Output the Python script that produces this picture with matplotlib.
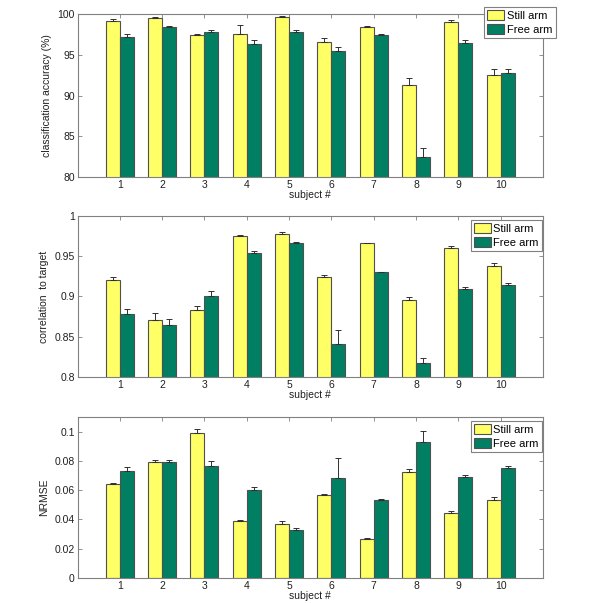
import numpy as np
import matplotlib
matplotlib.use("Agg")
import matplotlib.pyplot as plt

plt.rcParams['font.family'] = ['Liberation Sans', 'DejaVu Sans']

subjects = [1, 2, 3, 4, 5, 6, 7, 8, 9, 10]
labels = ["Still arm", "Free arm"]

# classification accuracy (%)
acc_still = [99.1, 99.5, 97.4, 97.6, 99.6, 96.6, 98.4, 91.3, 99.0, 92.5]
acc_still_err = [0.3, 0.1, 0.2, 1.1, 0.15, 0.5, 0.1, 0.9, 0.3, 0.8]
acc_free = [97.2, 98.4, 97.8, 96.3, 97.8, 95.5, 97.4, 82.4, 96.5, 92.8]
acc_free_err = [0.3, 0.15, 0.2, 0.5, 0.2, 0.4, 0.2, 1.2, 0.3, 0.5]

# correlation to target
corr_still = [0.921, 0.871, 0.883, 0.975, 0.978, 0.924, 0.966, 0.896, 0.960, 0.938]
corr_still_err = [0.003, 0.009, 0.005, 0.001, 0.002, 0.003, 0.001, 0.003, 0.003, 0.003]
corr_free = [0.878, 0.865, 0.901, 0.954, 0.966, 0.841, 0.930, 0.817, 0.909, 0.914]
corr_free_err = [0.006, 0.007, 0.006, 0.003, 0.002, 0.017, 0.001, 0.007, 0.003, 0.003]

# NRMSE
nrmse_still = [0.0640, 0.0793, 0.0989, 0.0389, 0.0370, 0.0564, 0.0268, 0.0727, 0.0443, 0.0536]
nrmse_still_err = [0.0008, 0.0013, 0.0027, 0.0006, 0.0019, 0.0009, 0.0005, 0.0016, 0.0018, 0.0016]
nrmse_free = [0.0730, 0.0791, 0.0766, 0.0600, 0.0330, 0.0684, 0.0532, 0.0930, 0.0691, 0.0752]
nrmse_free_err = [0.0027, 0.0016, 0.0032, 0.0020, 0.0009, 0.0139, 0.0011, 0.0075, 0.0011, 0.0012]

YELLOW = '#FFFF66'
GREEN = '#007F62'
EDGE = '#505050'
AXC = '#808080'
FS = 7.5

fig = plt.figure(figsize=(6.0, 6.03), dpi=100)
W, H = 600.0, 603.0


def add_axes(top_px, bot_px, left_px=77.5, right_px=543.0):
    return fig.add_axes([left_px / W, 1 - bot_px / H,
                         (right_px - left_px) / W, (bot_px - top_px) / H])


def draw_panel(ax, still, still_err, free, free_err, ylim, yticks, yticklabels, ylabel, leg_anchor):
    x = np.array(subjects, dtype=float)
    w = 0.33
    b1 = ax.bar(x - w / 2, still, w, color=YELLOW, edgecolor=EDGE, linewidth=0.8,
                label=labels[0], zorder=2)
    b2 = ax.bar(x + w / 2, free, w, color=GREEN, edgecolor=EDGE, linewidth=0.8,
                label=labels[1], zorder=2)
    zeros = np.zeros(len(x))
    # one-sided (upper) error bars
    ax.errorbar(x - w / 2, still, yerr=[zeros, still_err], fmt='none', ecolor='#303030',
                elinewidth=0.7, capsize=2.3, capthick=0.7, zorder=3)
    ax.errorbar(x + w / 2, free, yerr=[zeros, free_err], fmt='none', ecolor='#303030',
                elinewidth=0.7, capsize=2.3, capthick=0.7, zorder=3)
    ax.set_xlim(0, 11)
    ax.set_ylim(*ylim)
    ax.set_xticks(subjects)
    ax.set_xticklabels([str(s) for s in subjects])
    ax.set_yticks(yticks)
    ax.set_yticklabels(yticklabels)
    ax.tick_params(direction='in', top=True, right=True, length=3, width=0.6,
                   color=AXC, labelsize=FS, labelcolor='#202020', pad=2)
    for s in ax.spines.values():
        s.set_color(AXC)
        s.set_linewidth(0.8)
    ax.set_xlabel("subject #", fontsize=FS, color='#202020', labelpad=0)
    ax.set_ylabel(ylabel, fontsize=FS, color='#202020', labelpad=4)
    leg = ax.legend(handles=[b1, b2], loc='upper right', bbox_to_anchor=leg_anchor,
                    borderaxespad=0, fontsize=FS + 0.5, fancybox=False, framealpha=1,
                    edgecolor=AXC, handlelength=1.5, handleheight=0.95,
                    handletextpad=0.25, labelspacing=0.3, borderpad=0.3)
    leg.get_frame().set_linewidth(0.8)


ax1 = add_axes(14, 177)
draw_panel(ax1, acc_still, acc_still_err, acc_free, acc_free_err,
           (80, 100), [80, 85, 90, 95, 100], ['80', '85', '90', '95', '100'],
           "classification accuracy (%)", (1.027, 1.045))

ax2 = add_axes(216, 377)
draw_panel(ax2, corr_still, corr_still_err, corr_free, corr_free_err,
           (0.8, 1.0), [0.8, 0.85, 0.9, 0.95, 1.0], ['0.8', '0.85', '0.9', '0.95', '1'],
           "correlation  to target", (0.998, 0.975))

ax3 = add_axes(417, 578)
draw_panel(ax3, nrmse_still, nrmse_still_err, nrmse_free, nrmse_free_err,
           (0, 0.11), [0, 0.02, 0.04, 0.06, 0.08, 0.1], ['0', '0.02', '0.04', '0.06', '0.08', '0.1'],
           "NRMSE", (0.998, 0.975))

fig.savefig("out.png", dpi=100, facecolor='white')
